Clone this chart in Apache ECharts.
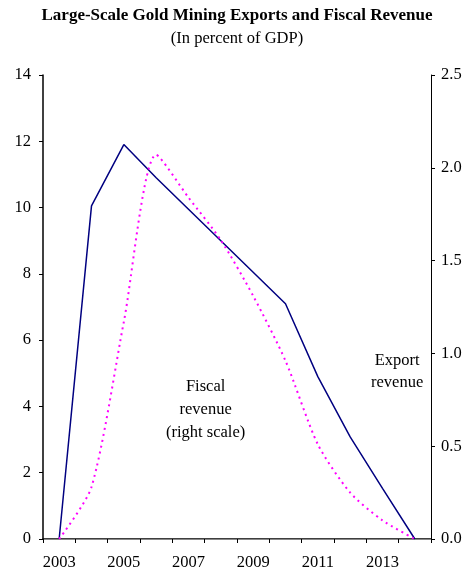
<!DOCTYPE html>
<html>
<head>
<meta charset="utf-8">
<script src="https://cdn.jsdelivr.net/npm/echarts@6/dist/echarts.min.js"></script>
<style>
html,body{margin:0;padding:0;background:#fff;}
#chart{width:474px;height:571px;}
</style>
</head>
<body>
<div id="chart"></div>
<script>
const years = ['2003','2004','2005','2006','2007','2008','2009','2010','2011','2012','2013','2014'];
const exportRevenue = [0, 10.05, 11.9, 10.9, 9.95, 9.0, 8.05, 7.1, 4.9, 3.08, 1.53, 0];
const fiscalRevenue = [0, 0.28, 1.17, 2.07, 1.84, 1.61, 1.31, 0.96, 0.51, 0.25, 0.10, 0];
const titleText = 'Large-Scale Gold Mining Exports and Fiscal Revenue';
const subtitleText = '(In percent of GDP)';
const fiscalLabel = 'Fiscal\nrevenue\n(right scale)';
const exportLabel = 'Export\nrevenue';

const serif = '"Liberation Serif", "Times New Roman", serif';
const chart = echarts.init(document.getElementById('chart'));
chart.setOption({
  animation: false,
  backgroundColor: '#fff',
  title: [
    {text: titleText, left: 'center', top: 2,
     textStyle: {fontFamily: serif, fontSize: 17, fontWeight: 'bold', color: '#000'}},
    {text: subtitleText, left: 'center', top: 25,
     textStyle: {fontFamily: serif, fontSize: 16.5, fontWeight: 'normal', color: '#000'}}
  ],
  grid: {left: 43, right: 43, top: 75, bottom: 32, containLabel: false},
  xAxis: [
    {type: 'category', data: years, boundaryGap: true, position: 'bottom',
     axisLine: {lineStyle: {color: '#000', width: 1.5}},
     axisTick: {show: true, interval: 0, length: 4, lineStyle: {color: '#000'}},
     axisLabel: {interval: 1, fontFamily: serif, fontSize: 16.5, color: '#000', margin: 15}},
    {type: 'category', data: years, boundaryGap: true, position: 'top',
     axisLine: {show: true, lineStyle: {color: '#888', width: 1}},
     axisTick: {show: false}, axisLabel: {show: false}}
  ],
  yAxis: [
    {type: 'value', min: 0, max: 14, interval: 2, position: 'left',
     axisLine: {show: true, lineStyle: {color: '#000', width: 1.5}},
     axisTick: {show: true, length: 4, lineStyle: {color: '#000'}},
     splitLine: {show: false},
     axisLabel: {fontFamily: serif, fontSize: 16.5, color: '#000', margin: 12}},
    {type: 'value', min: 0, max: 2.5, interval: 0.5, position: 'right',
     axisLine: {show: true, lineStyle: {color: '#000', width: 1}},
     axisTick: {show: true, length: 4, lineStyle: {color: '#000'}},
     splitLine: {show: false},
     axisLabel: {fontFamily: serif, fontSize: 16.5, color: '#000', margin: 10,
       formatter: v => v.toFixed(1)}}
  ],
  series: [
    {name: 'Export revenue', type: 'line', data: exportRevenue, xAxisIndex: 0, yAxisIndex: 0,
     symbol: 'none', lineStyle: {color: '#000080', width: 1.5}},
    {name: 'Fiscal revenue', type: 'line', data: fiscalRevenue, xAxisIndex: 0, yAxisIndex: 1,
     symbol: 'none', smooth: 0.25,
     lineStyle: {color: '#FF00FF', width: 2, type: [2, 4]}}
  ],
  graphic: [
    {type: 'text', left: 166, top: 375, style: {text: fiscalLabel, fontFamily: serif, fontSize: 16.5,
      fill: '#000', textAlign: 'center', lineHeight: 23}},
    {type: 'text', left: 371, top: 350, style: {text: exportLabel, fontFamily: serif, fontSize: 16.5,
      fill: '#000', textAlign: 'center', lineHeight: 22}}
  ]
});
</script>
</body>
</html>
